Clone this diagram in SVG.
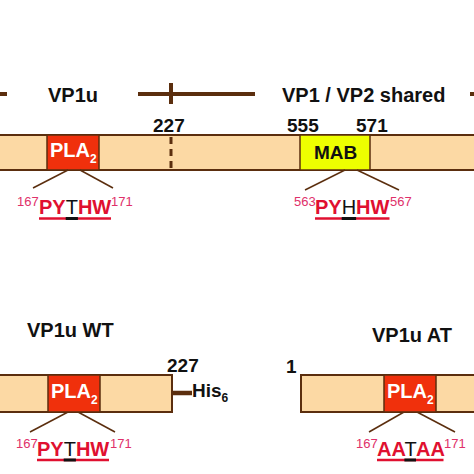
<svg xmlns="http://www.w3.org/2000/svg" width="474" height="474" viewBox="0 0 474 474">
<style>
text{font-family:"Liberation Sans",Arial,sans-serif;}
.lbl{font-size:20px;font-weight:bold;fill:#111;}
.num{font-size:19px;font-weight:bold;fill:#111;}
.bar{fill:#fcd9a4;stroke:#5b2e0e;stroke-width:2;}
.pla{fill:#f0300c;stroke:#5b2e0e;stroke-width:1.5;}
.mab{fill:#eeff00;stroke:#5b2e0e;stroke-width:1.5;}
.plat{font-size:20px;font-weight:bold;fill:#fff;}
.sub{font-size:12px;font-weight:bold;}
.sup{font-size:13px;fill:#e0306a;}
.aa{font-size:20px;font-weight:bold;fill:#e01030;}
.mid{font-size:20px;fill:#111;}
.ul{stroke:#e01030;stroke-width:2.5;}
.ulk{stroke:#111;stroke-width:3;}
.thin{stroke:#5b2e0e;stroke-width:1.5;fill:none;}
.thick{stroke:#5b2e0e;stroke-width:4;fill:none;}
</style>

<g id="top-scale">
  <line class="thick" x1="0" y1="94" x2="7" y2="94"/>
  <line class="thick" x1="138" y1="94" x2="255" y2="94"/>
  <line class="thick" x1="171" y1="83" x2="171" y2="104"/>
  <line class="thick" x1="470" y1="94" x2="474" y2="94"/>
  <text class="lbl" x="48" y="102">VP1u</text>
  <text class="lbl" x="282" y="102">VP1 / VP2 shared</text>
</g>

<g id="top-bar">
  <rect class="bar" x="-5" y="135" width="490" height="35"/>
  <line x1="171" y1="137" x2="171" y2="170" stroke="#5b2e0e" stroke-width="3" stroke-dasharray="7,5"/>
  <text class="num" x="153" y="132">227</text>
  <text class="num" x="287" y="132">555</text>
  <text class="num" x="356" y="132">571</text>
</g>

<g id="top-pla2">
  <rect class="pla" x="47" y="135" width="52" height="35"/>
  <text class="plat" x="50" y="157">PLA<tspan class="sub" dy="6">2</tspan></text>
</g>

<g id="top-mab">
  <rect class="mab" x="300" y="135" width="70" height="35"/>
  <text class="num" x="314" y="159">MAB</text>
</g>

<g id="connectors">
  <line class="thin" x1="68" y1="170" x2="33" y2="188"/>
  <line class="thin" x1="80" y1="170" x2="113" y2="188"/>
  <line class="thin" x1="345" y1="170" x2="305" y2="190"/>
  <line class="thin" x1="357" y1="170" x2="399" y2="190"/>
  <line class="thin" x1="68" y1="412" x2="30" y2="432"/>
  <line class="thin" x1="78" y1="412" x2="115" y2="432"/>
  <line class="thin" x1="404" y1="412" x2="369" y2="432"/>
  <line class="thin" x1="417" y1="412" x2="455" y2="432"/>
  <line x1="172" y1="393" x2="192" y2="393" stroke="#5b2e0e" stroke-width="4.5"/>
</g>

<g id="seq-top-pla2">
  <text class="sup" x="17" y="206">167</text>
  <text class="aa" x="39" y="214">PY</text>
  <text class="mid" x="65.7" y="214">T</text>
  <text class="aa" x="77.9" y="214">HW</text>
  <text class="sup" x="111" y="206">171</text>
  <line class="ul" x1="39" y1="218.5" x2="111" y2="218.5"/>
  <line class="ulk" x1="65.7" y1="218.5" x2="77.9" y2="218.5"/>
</g>

<g id="seq-top-mab">
  <text class="sup" x="294" y="206">563</text>
  <text class="aa" x="315" y="214">PY</text>
  <text class="mid" x="341.7" y="214">H</text>
  <text class="aa" x="356.1" y="214">HW</text>
  <text class="sup" x="390" y="206">567</text>
  <line class="ul" x1="315" y1="218.5" x2="389.5" y2="218.5"/>
  <line class="ulk" x1="341.7" y1="218.5" x2="356.1" y2="218.5"/>
</g>

<g id="wt">
  <text class="lbl" x="27" y="337">VP1u WT</text>
  <text class="num" x="167" y="372">227</text>
  <rect class="bar" x="-5" y="375" width="177" height="37"/>
  <rect class="pla" x="48" y="375" width="52" height="37"/>
  <text class="plat" x="51" y="398">PLA<tspan class="sub" dy="6">2</tspan></text>
  <text class="num" x="192" y="397">His<tspan class="sub" font-size="12" dy="5">6</tspan></text>
</g>

<g id="seq-wt">
  <text class="sup" x="16" y="448">167</text>
  <text class="aa" x="37" y="456">PY</text>
  <text class="mid" x="63.7" y="456">T</text>
  <text class="aa" x="75.9" y="456">HW</text>
  <text class="sup" x="110" y="448">171</text>
  <line class="ul" x1="37" y1="460" x2="109" y2="460"/>
  <line class="ulk" x1="63.7" y1="460" x2="75.9" y2="460"/>
</g>

<g id="at">
  <text class="lbl" x="372" y="342">VP1u AT</text>
  <text class="num" x="286" y="373">1</text>
  <rect class="bar" x="301" y="375" width="180" height="37"/>
  <rect class="pla" x="384" y="375" width="52" height="37"/>
  <text class="plat" x="387" y="398">PLA<tspan class="sub" dy="6">2</tspan></text>
</g>

<g id="seq-at">
  <text class="sup" x="356" y="448">167</text>
  <text class="aa" x="377" y="456" font-size="19">AA</text>
  <text class="mid" x="404.4" y="456" font-size="19">T</text>
  <text class="aa" x="416" y="456" font-size="19">AA</text>
  <text class="sup" x="444" y="448">171</text>
  <line class="ul" x1="377" y1="460" x2="443.5" y2="460"/>
  <line class="ulk" x1="404.4" y1="460" x2="416" y2="460"/>
</g>
</svg>
